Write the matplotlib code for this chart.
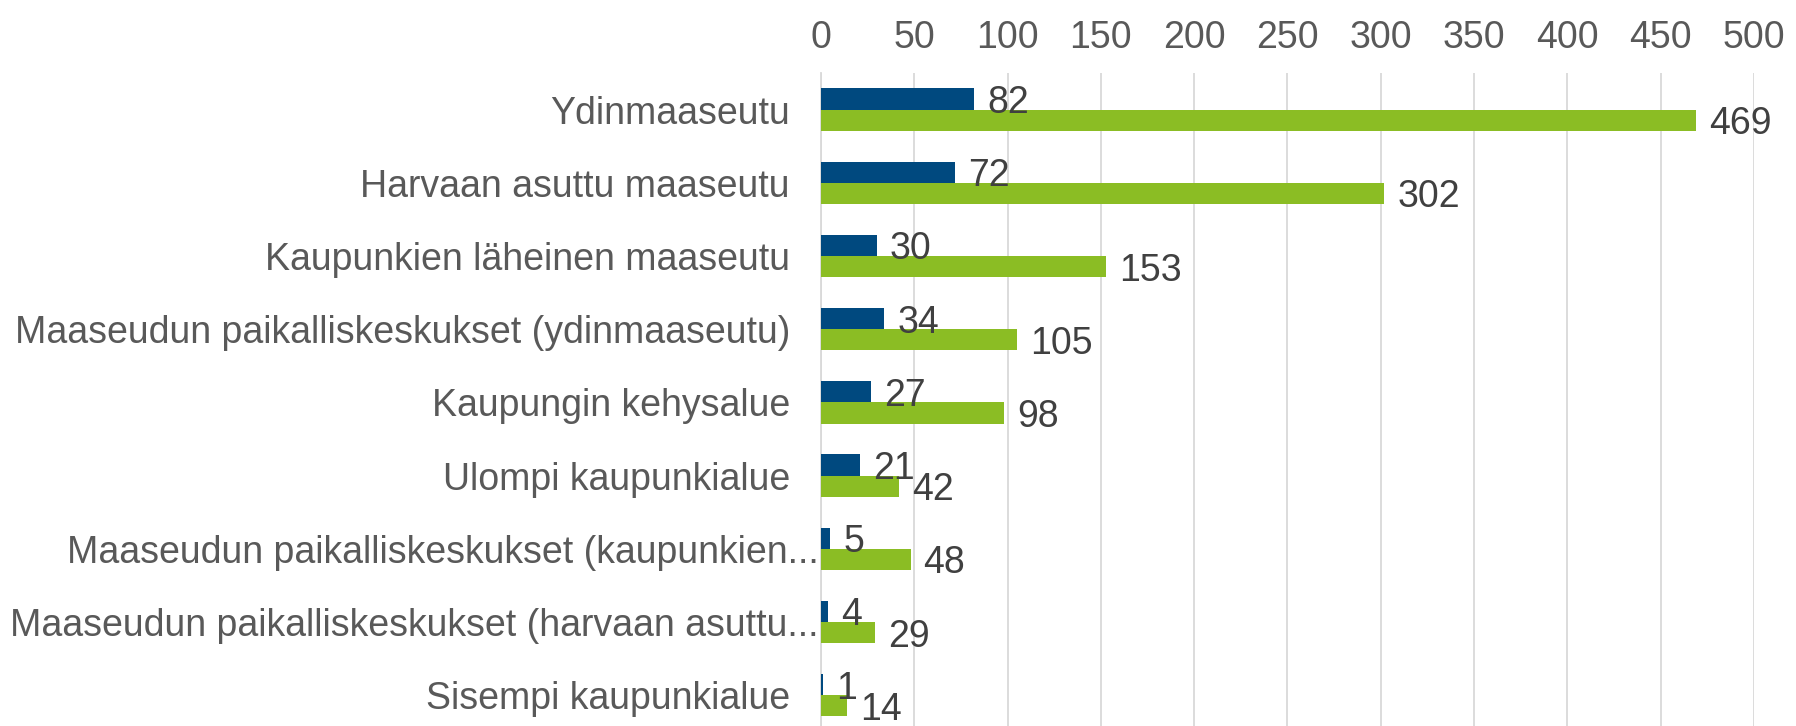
import numpy as np
import matplotlib.pyplot as plt
from matplotlib.transforms import offset_copy

plt.rcParams['font.family'] = ['Liberation Sans', 'DejaVu Sans']

# categories and values
categories = [
    "Ydinmaaseutu",
    "Harvaan asuttu maaseutu",
    "Kaupunkien läheinen maaseutu",
    "Maaseudun paikalliskeskukset (ydinmaaseutu)",
    "Kaupungin kehysalue",
    "Ulompi kaupunkialue",
    "Maaseudun paikalliskeskukset (kaupunkien...",
    "Maaseudun paikalliskeskukset (harvaan asuttu...",
    "Sisempi kaupunkialue",
]
blue_vals = [82, 72, 30, 34, 27, 21, 5, 4, 1]
green_vals = [469, 302, 153, 105, 98, 42, 48, 29, 14]
xticks = [0, 50, 100, 150, 200, 250, 300, 350, 400, 450, 500]

blue = "#00497F"
green = "#8BBD24"
label_col = "#595959"
value_col = "#404040"

fig = plt.figure(figsize=(17.96, 7.26), dpi=100)
ax = fig.add_axes([0.4571, -0.008, 0.5195, 0.9074])

y = np.arange(len(categories))
h = 0.29
ax.barh(y - h / 2, blue_vals, height=h, color=blue, zorder=3)
ax.barh(y + h / 2, green_vals, height=h, color=green, zorder=3)

# data labels just right of each bar end (nudged down a bit so digits sit centred)
val_tr = offset_copy(ax.transData, fig=fig, x=0, y=-4, units='dots')
for i in range(len(categories)):
    ax.text(blue_vals[i] + 7, y[i] - h / 2, str(blue_vals[i]), va='center', ha='left',
            fontsize=27, color=value_col, zorder=4, transform=val_tr)
    ax.text(green_vals[i] + 7, y[i] + h / 2, str(green_vals[i]), va='center', ha='left',
            fontsize=27, color=value_col, zorder=4, transform=val_tr)

ax.set_xlim(0, 500)
ax.set_ylim(len(categories) - 0.5, -0.5)
ax.set_yticks(y)
ax.set_yticklabels([])
# category labels; the truncated ones run right up to the axis line
for i, c in enumerate(categories):
    dx = -2 if c.endswith("...") else -31
    tr = offset_copy(ax.get_yaxis_transform(), fig=fig, x=dx, y=-4, units='dots')
    ax.text(0, y[i], c, transform=tr, ha='right', va='center', fontsize=27,
            color=label_col, clip_on=False)
ax.set_xticks(xticks)
ax.set_xticklabels([str(t) for t in xticks], fontsize=27, color=label_col)
ax.xaxis.tick_top()
ax.tick_params(axis='both', length=0)
ax.tick_params(axis='x', pad=12)
ax.grid(axis='x', color='#D9D9D9', linewidth=1.3, zorder=0)
for s in ['top', 'right', 'bottom']:
    ax.spines[s].set_visible(False)
ax.spines['left'].set_color('#D9D9D9')
ax.spines['left'].set_linewidth(1.3)

fig.savefig("out.png", dpi=100)
